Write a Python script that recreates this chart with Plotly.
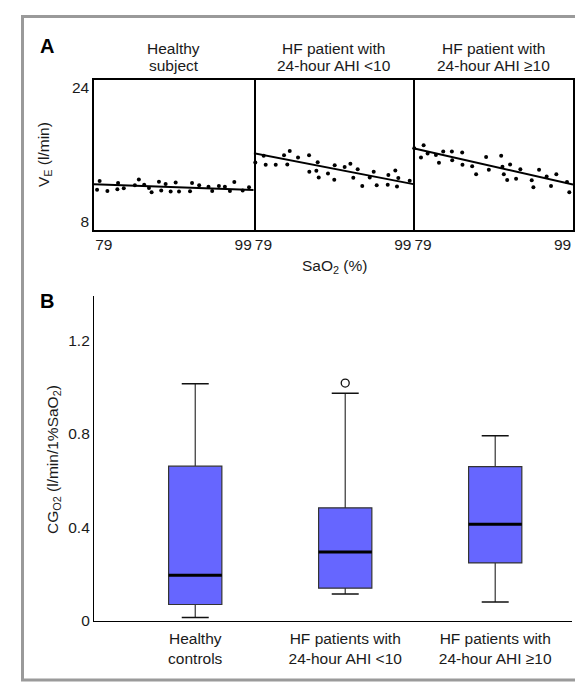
import plotly.graph_objects as go

# ---------------- Panel A data ----------------
panel_titles = [["Healthy", "subject"], ["HF patient with", "24-hour AHI &lt;10"], ["HF patient with", "24-hour AHI ≥10"]]

sao2_healthy = [78.04, 78.41, 79.52, 80.95, 81.05, 81.87, 83.46, 84.03, 84.80, 85.48, 85.86, 86.91, 87.24, 87.87,
                88.59, 89.31, 89.79, 91.37, 91.66, 92.68, 94.02, 94.55, 95.51, 96.37, 97.09, 97.72, 98.92, 99.83]
ve_healthy = [11.82, 12.84, 11.66, 11.86, 12.61, 11.98, 12.34, 13.04, 12.42, 12.01, 11.51, 12.77, 11.71, 12.49,
              11.59, 12.68, 11.59, 11.62, 12.61, 12.34, 12.18, 11.66, 12.26, 12.18, 11.66, 12.73, 11.71, 12.10]

sao2_low = [77.83, 79.03, 79.32, 80.76, 81.95, 82.42, 82.77, 83.96, 85.54, 85.58, 86.59, 86.78, 86.93, 88.26, 89.16,
            89.22, 90.65, 91.47, 91.89, 92.52, 93.18, 94.25, 94.82, 95.25, 96.92, 96.83, 97.92, 98.16, 98.35, 99.98]
ve_low = [15.06, 15.88, 14.79, 14.79, 15.93, 14.82, 16.44, 15.65, 15.93, 13.96, 14.07, 15.10, 13.28, 13.76, 13.01,
          14.74, 14.51, 14.91, 13.24, 14.27, 12.26, 13.28, 13.96, 12.34, 13.56, 12.42, 14.12, 12.21, 13.20, 12.89]

sao2_high = [77.74, 78.70, 79.08, 79.65, 80.84, 81.28, 81.89, 83.13, 83.18, 84.61, 84.65, 86.04, 86.61, 88.04, 88.43,
             90.20, 90.38, 90.58, 91.06, 91.48, 92.34, 92.95, 94.58, 94.82, 95.63, 96.72, 97.35, 98.11, 99.64, 99.97]
ve_high = [16.76, 15.65, 17.12, 16.13, 15.97, 15.02, 16.37, 16.37, 15.34, 16.24, 14.79, 14.62, 13.67, 15.73, 14.19,
           15.88, 14.55, 13.67, 12.96, 14.82, 13.13, 14.27, 12.93, 12.10, 14.19, 13.40, 12.26, 13.67, 12.73, 11.51]

fit_sao2 = [77.6, 100.5]
fit_healthy = [12.48, 11.78]
fit_low = [16.16, 12.48]
fit_high = [16.76, 12.42]

sao2_ticks = [79, 99]
ve_ticks = [8, 24]

# ---------------- Panel B data ----------------
groups = ["Healthy<br>controls", "HF patients with<br>24-hour AHI &lt;10", "HF patients with<br>24-hour AHI ≥10"]
lower_whisker = [0.014, 0.115, 0.081]
q1 = [0.070, 0.140, 0.248]
median = [0.195, 0.295, 0.414]
q3 = [0.662, 0.484, 0.660]
upper_whisker = [1.015, 0.974, 0.792]
outlier_group = [1]
outlier_value = [1.018]
cg_ticks = [0, 0.4, 0.8, 1.2]

W, H = 583, 683
FONT = "Arial, Liberation Sans, sans-serif"
TXT = "#1a1a1a"
FS = 15.5

def px(x):
    return x / W

def py(y):
    return 1 - y / H

def label(fig, x, y, text, size=FS, angle=0, color=TXT):
    fig.add_annotation(x=px(x), y=py(y), xref="paper", yref="paper", text=text, showarrow=False,
                       xanchor="center", yanchor="middle", textangle=angle,
                       font=dict(size=size, color=color, family=FONT))

fig = go.Figure()

# panel A subplot geometry
a_left, a_right = 86, 565
a_top, a_bot = 72, 224
edges = [a_left, 245.7, 405.3, a_right]

series = [(sao2_healthy, ve_healthy, fit_healthy),
          (sao2_low, ve_low, fit_low),
          (sao2_high, ve_high, fit_high)]

for i, (sx, sy, fy) in enumerate(series):
    xa = "x" if i == 0 else f"x{i+1}"
    ya = "y" if i == 0 else f"y{i+1}"
    fig.add_trace(go.Scatter(x=sx, y=sy, mode="markers", xaxis=xa, yaxis=ya,
                             marker=dict(color="black", size=4), showlegend=False, cliponaxis=False))
    fig.add_trace(go.Scatter(x=fit_sao2, y=fy, mode="lines", xaxis=xa, yaxis=ya,
                             line=dict(color="black", width=2), showlegend=False))
    axkey = "xaxis" if i == 0 else f"xaxis{i+1}"
    aykey = "yaxis" if i == 0 else f"yaxis{i+1}"
    fig.layout[axkey] = dict(domain=[px(edges[i]), px(edges[i+1])], range=[77.6, 100.5],
                             tickvals=sao2_ticks, ticks="", showgrid=False, zeroline=False,
                             showline=True, linecolor="black", linewidth=1.5, mirror=True,
                             anchor=ya, tickfont=dict(size=FS, color=TXT, family=FONT))
    ydict = dict(domain=[py(a_bot), py(a_top)], range=[7.0, 24.9],
                 tickvals=ve_ticks, ticks="", showgrid=False, zeroline=False,
                 showline=True, linecolor="black", linewidth=1.5,
                 showticklabels=(i == 0), anchor=xa,
                 tickfont=dict(size=FS, color=TXT, family=FONT))
    if i == 0:
        ydict["mirror"] = True
    else:
        ydict["side"] = "right"
    fig.layout[aykey] = ydict
    cx = (edges[i] + edges[i+1]) / 2
    label(fig, cx, 40.5, panel_titles[i][0])
    label(fig, cx, 57.5, panel_titles[i][1])

# ---------------- Panel B ----------------
b_left, b_right = 86, 564
b_top, b_bot = 291, 620
bw = 0.355
cw = 0.18
xpos = list(range(len(groups)))

fig.add_trace(go.Box(x=xpos, q1=q1, median=median, q3=q3, lowerfence=lower_whisker, upperfence=upper_whisker,
                     width=bw, fillcolor="#6666ff", line=dict(color="#333333", width=1.2),
                     xaxis="x4", yaxis="y4", showlegend=False, boxpoints=False, whiskerwidth=0))

for k in xpos:
    fig.add_trace(go.Scatter(x=[k - bw / 2, k + bw / 2], y=[median[k], median[k]], mode="lines",
                             line=dict(color="black", width=3), xaxis="x4", yaxis="y4", showlegend=False))
    for v in (lower_whisker[k], upper_whisker[k]):
        fig.add_trace(go.Scatter(x=[k - cw / 2, k + cw / 2], y=[v, v], mode="lines",
                                 line=dict(color="#111111", width=1.5), xaxis="x4", yaxis="y4",
                                 showlegend=False))

fig.add_trace(go.Scatter(x=outlier_group, y=outlier_value, mode="markers",
                         marker=dict(symbol="circle-open", size=8, color="#111111", line=dict(width=1.3)),
                         xaxis="x4", yaxis="y4", showlegend=False))

fig.update_layout(
    xaxis4=dict(domain=[px(b_left), px(b_right)], range=[-0.675, 2.512], tickvals=xpos, ticktext=groups,
                ticks="", showgrid=False, zeroline=False, showline=True, linecolor="black", linewidth=1.2,
                anchor="y4", ticklabelstandoff=3, tickfont=dict(size=FS, color=TXT, family=FONT)),
    yaxis4=dict(domain=[py(b_bot), py(b_top)], range=[0, 1.39], tickvals=cg_ticks,
                ticktext=["0", "0.4", "0.8", "1.2"], ticks="", showgrid=False, zeroline=False,
                showline=True, linecolor="black", linewidth=1.2, anchor="x4",
                tickfont=dict(size=FS, color=TXT, family=FONT)),
)

# labels
label(fig, 39, 37, "<b>A</b>", size=20, color="black")
label(fig, 39, 296, "<b>B</b>", size=20, color="black")
label(fig, 326, 261, "SaO<sub>2</sub> (%)")
label(fig, 36, 148, "V<sub>E</sub> (l/min)", angle=-90)
label(fig, 46, 457, "CG<sub>O2</sub> (l/min/1%SaO<sub>2</sub>)", angle=-90)

# outer grey frame
fig.add_shape(type="rect", xref="paper", yref="paper", x0=px(14.5), x1=px(574), y0=py(680), y1=py(7.5),
              line=dict(color="#9a9a9a", width=3), fillcolor="rgba(0,0,0,0)", layer="below")

fig.update_layout(width=W, height=H, margin=dict(l=0, r=0, t=0, b=0),
                  paper_bgcolor="white", plot_bgcolor="white",
                  font=dict(family=FONT, color=TXT, size=FS))

fig.write_html("out.html")
